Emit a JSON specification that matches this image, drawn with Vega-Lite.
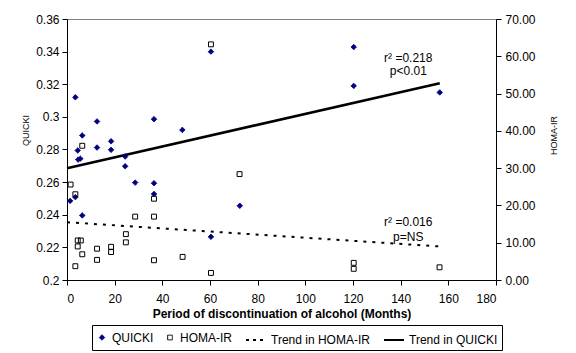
{
  "$schema": "https://vega.github.io/schema/vega-lite/v6.json",
  "width": 429,
  "height": 261,
  "autosize": "none",
  "padding": {"left": 67, "top": 19, "right": 80, "bottom": 73},
  "background": "white",
  "config": {
    "font": "Liberation Sans",
    "view": {"stroke": "#808080"},
    "axis": {
      "grid": false,
      "domainColor": "black",
      "tickColor": "black",
      "labelColor": "black",
      "titleColor": "black",
      "labelFont": "Liberation Sans",
      "titleFont": "Liberation Sans",
      "labelFontSize": 12,
      "labelOverlap": false,
      "tickSize": 5,
      "domainWidth": 1
    }
  },
  "datasets": {
    "pts": [
      {"s": "QUICKI", "x": 1.3, "v": 0.2485},
      {"s": "QUICKI", "x": 3.5, "v": 0.312},
      {"s": "QUICKI", "x": 3.5, "v": 0.2508},
      {"s": "QUICKI", "x": 4.5, "v": 0.2794},
      {"s": "QUICKI", "x": 4.7, "v": 0.2738},
      {"s": "QUICKI", "x": 5.6, "v": 0.2744},
      {"s": "QUICKI", "x": 6.4, "v": 0.2886},
      {"s": "QUICKI", "x": 6.4, "v": 0.2396},
      {"s": "QUICKI", "x": 12.6, "v": 0.2972},
      {"s": "QUICKI", "x": 12.6, "v": 0.2812},
      {"s": "QUICKI", "x": 18.5, "v": 0.285},
      {"s": "QUICKI", "x": 18.5, "v": 0.2798},
      {"s": "QUICKI", "x": 24.4, "v": 0.2757},
      {"s": "QUICKI", "x": 24.4, "v": 0.2697},
      {"s": "QUICKI", "x": 28.6, "v": 0.2597},
      {"s": "QUICKI", "x": 36.5, "v": 0.2986},
      {"s": "QUICKI", "x": 36.5, "v": 0.2593},
      {"s": "QUICKI", "x": 36.5, "v": 0.2527},
      {"s": "QUICKI", "x": 48.4, "v": 0.292},
      {"s": "QUICKI", "x": 60.4, "v": 0.340},
      {"s": "QUICKI", "x": 60.4, "v": 0.2265},
      {"s": "QUICKI", "x": 72.5, "v": 0.2455},
      {"s": "QUICKI", "x": 120.3, "v": 0.3428},
      {"s": "QUICKI", "x": 120.3, "v": 0.319},
      {"s": "QUICKI", "x": 156.4, "v": 0.315},
      {"s": "HOMA-IR", "x": 1.5, "v": 25.6},
      {"s": "HOMA-IR", "x": 3.5, "v": 23.0},
      {"s": "HOMA-IR", "x": 3.5, "v": 3.7},
      {"s": "HOMA-IR", "x": 4.5, "v": 10.6},
      {"s": "HOMA-IR", "x": 5.8, "v": 10.6},
      {"s": "HOMA-IR", "x": 4.5, "v": 9.0},
      {"s": "HOMA-IR", "x": 6.4, "v": 36.0},
      {"s": "HOMA-IR", "x": 6.4, "v": 6.9},
      {"s": "HOMA-IR", "x": 12.6, "v": 8.4},
      {"s": "HOMA-IR", "x": 12.6, "v": 5.4},
      {"s": "HOMA-IR", "x": 18.5, "v": 8.9},
      {"s": "HOMA-IR", "x": 18.5, "v": 7.5},
      {"s": "HOMA-IR", "x": 24.7, "v": 12.3},
      {"s": "HOMA-IR", "x": 24.7, "v": 10.1},
      {"s": "HOMA-IR", "x": 28.6, "v": 17.0},
      {"s": "HOMA-IR", "x": 36.5, "v": 21.8},
      {"s": "HOMA-IR", "x": 36.5, "v": 17.0},
      {"s": "HOMA-IR", "x": 36.5, "v": 5.3},
      {"s": "HOMA-IR", "x": 48.5, "v": 6.2},
      {"s": "HOMA-IR", "x": 60.4, "v": 63.2},
      {"s": "HOMA-IR", "x": 60.4, "v": 1.9},
      {"s": "HOMA-IR", "x": 72.4, "v": 28.4},
      {"s": "HOMA-IR", "x": 120.3, "v": 4.6},
      {"s": "HOMA-IR", "x": 120.3, "v": 3.0},
      {"s": "HOMA-IR", "x": 156.3, "v": 3.4}
    ],
    "trend": [
      {"s": "Trend in QUICKI", "x": 0, "v": 0.2685},
      {"s": "Trend in QUICKI", "x": 156.4, "v": 0.3206},
      {"s": "Trend in HOMA-IR", "x": 0, "v": 15.5},
      {"s": "Trend in HOMA-IR", "x": 156.4, "v": 9.0}
    ],
    "notes": [
      {"label": "r² =0.218", "x": 143.2, "v": 0.336},
      {"label": "p<0.01", "x": 143.2, "v": 0.3282},
      {"label": "r² =0.016", "x": 143.2, "v": 0.2354},
      {"label": "p=NS", "x": 143.2, "v": 0.2262}
    ]
  },
  "layer": [
    {
      "data": {"name": "trend"},
      "transform": [{"filter": "datum.s === 'Trend in QUICKI'"}],
      "mark": {"type": "line", "color": "black", "strokeWidth": 2.6},
      "encoding": {
        "x": {
          "field": "x", "type": "quantitative",
          "scale": {"domain": [0, 180], "nice": false},
          "axis": {
            "values": [0, 20, 40, 60, 80, 100, 120, 140, 160, 180],
            "labelPadding": 8,
            "title": "Period of discontinuation of alcohol (Months)",
            "titleFontSize": 12,
            "titleFontWeight": "bold",
            "titleBaseline": "middle",
            "titleY": 33
          }
        },
        "y": {
          "field": "v", "type": "quantitative",
          "scale": {"domain": [0.2, 0.36], "nice": false, "zero": false},
          "axis": {
            "orient": "left",
            "values": [0.2, 0.22, 0.24, 0.26, 0.28, 0.3, 0.32, 0.34, 0.36],
            "format": ".2~f",
            "labelPadding": 3,
            "title": "QUICKI",
            "titleFontSize": 9,
            "titleFontWeight": "normal",
            "titleAngle": -90,
            "titleAlign": "center",
            "titleBaseline": "middle",
            "titleX": -42,
            "titleY": 111
          }
        }
      }
    },
    {
      "data": {"name": "pts"},
      "transform": [{"filter": "datum.s === 'QUICKI'"}],
      "mark": {"type": "point", "filled": true, "opacity": 1},
      "encoding": {
        "x": {
          "field": "x", "type": "quantitative",
          "scale": {"domain": [0, 180], "nice": false},
          "axis": {
            "values": [0, 20, 40, 60, 80, 100, 120, 140, 160, 180],
            "labelPadding": 8,
            "title": "Period of discontinuation of alcohol (Months)",
            "titleFontSize": 12,
            "titleFontWeight": "bold",
            "titleBaseline": "middle",
            "titleY": 33
          }
        },
        "y": {"field": "v", "type": "quantitative", "scale": {"domain": [0.2, 0.36], "nice": false, "zero": false}, "axis": null},
        "shape": {
          "field": "s", "type": "nominal",
          "scale": {
            "domain": ["QUICKI", "HOMA-IR", "Trend in HOMA-IR", "Trend in QUICKI"],
            "range": ["diamond", "square", "stroke", "stroke"]
          },
          "legend": {
            "orient": "none",
            "legendX": 25,
            "legendY": 306,
            "direction": "horizontal",
            "title": null,
            "labelFont": "Liberation Sans",
            "labelFontSize": 12,
            "labelColor": "black",
            "labelOffset": 4,
            "columnPadding": 10,
            "padding": 4,
            "strokeColor": "black"
          }
        },
        "fill": {
          "field": "s", "type": "nominal",
          "scale": {
            "domain": ["QUICKI", "HOMA-IR", "Trend in HOMA-IR", "Trend in QUICKI"],
            "range": ["#000080", "transparent", "transparent", "transparent"]
          }
        },
        "stroke": {
          "field": "s", "type": "nominal",
          "scale": {
            "domain": ["QUICKI", "HOMA-IR", "Trend in HOMA-IR", "Trend in QUICKI"],
            "range": ["#000080", "black", "black", "black"]
          }
        },
        "strokeDash": {
          "field": "s", "type": "nominal",
          "scale": {
            "domain": ["QUICKI", "HOMA-IR", "Trend in HOMA-IR", "Trend in QUICKI"],
            "range": [[1, 0], [1, 0], [3, 4], [1, 0]]
          }
        },
        "size": {
          "field": "s", "type": "nominal",
          "scale": {
            "type": "ordinal",
            "domain": ["QUICKI", "HOMA-IR", "Trend in HOMA-IR", "Trend in QUICKI"],
            "range": [30, 22, 400, 400]
          }
        },
        "strokeWidth": {
          "field": "s", "type": "nominal",
          "scale": {
            "type": "ordinal",
            "domain": ["QUICKI", "HOMA-IR", "Trend in HOMA-IR", "Trend in QUICKI"],
            "range": [1, 1, 2, 2]
          }
        }
      }
    },
    {
      "data": {"name": "notes"},
      "mark": {"type": "text", "font": "Liberation Sans", "fontSize": 12, "color": "black", "align": "center", "baseline": "middle"},
      "encoding": {
        "x": {
          "field": "x", "type": "quantitative",
          "scale": {"domain": [0, 180], "nice": false},
          "axis": {
            "values": [0, 20, 40, 60, 80, 100, 120, 140, 160, 180],
            "labelPadding": 8,
            "title": "Period of discontinuation of alcohol (Months)",
            "titleFontSize": 12,
            "titleFontWeight": "bold",
            "titleBaseline": "middle",
            "titleY": 33
          }
        },
        "y": {"field": "v", "type": "quantitative", "scale": {"domain": [0.2, 0.36], "nice": false, "zero": false}, "axis": null},
        "text": {"field": "label"}
      }
    },
    {
      "data": {"name": "trend"},
      "transform": [{"filter": "datum.s === 'Trend in HOMA-IR'"}],
      "mark": {"type": "line", "color": "black", "strokeWidth": 2, "strokeDash": [3, 6]},
      "encoding": {
        "x": {
          "field": "x", "type": "quantitative",
          "scale": {"domain": [0, 180], "nice": false},
          "axis": {
            "values": [0, 20, 40, 60, 80, 100, 120, 140, 160, 180],
            "labelPadding": 8,
            "title": "Period of discontinuation of alcohol (Months)",
            "titleFontSize": 12,
            "titleFontWeight": "bold",
            "titleBaseline": "middle",
            "titleY": 33
          }
        },
        "y": {
          "field": "v", "type": "quantitative",
          "scale": {"domain": [0, 70], "nice": false},
          "axis": {
            "orient": "right",
            "values": [0, 10, 20, 30, 40, 50, 60, 70],
            "format": ".2f",
            "labelPadding": 4,
            "title": "HOMA-IR",
            "titleFontSize": 9,
            "titleFontWeight": "normal",
            "titleAngle": -90,
            "titleAlign": "center",
            "titleBaseline": "middle",
            "titleX": 57,
            "titleY": 116
          }
        }
      }
    },
    {
      "data": {"name": "pts"},
      "transform": [{"filter": "datum.s === 'HOMA-IR'"}],
      "mark": {"type": "point", "shape": "square", "filled": false, "color": "black", "strokeWidth": 1, "size": 24, "opacity": 1},
      "encoding": {
        "x": {
          "field": "x", "type": "quantitative",
          "scale": {"domain": [0, 180], "nice": false},
          "axis": {
            "values": [0, 20, 40, 60, 80, 100, 120, 140, 160, 180],
            "labelPadding": 8,
            "title": "Period of discontinuation of alcohol (Months)",
            "titleFontSize": 12,
            "titleFontWeight": "bold",
            "titleBaseline": "middle",
            "titleY": 33
          }
        },
        "y": {"field": "v", "type": "quantitative", "scale": {"domain": [0, 70], "nice": false}, "axis": null}
      }
    }
  ],
  "resolve": {"scale": {"y": "independent"}, "axis": {"y": "independent"}}
}
